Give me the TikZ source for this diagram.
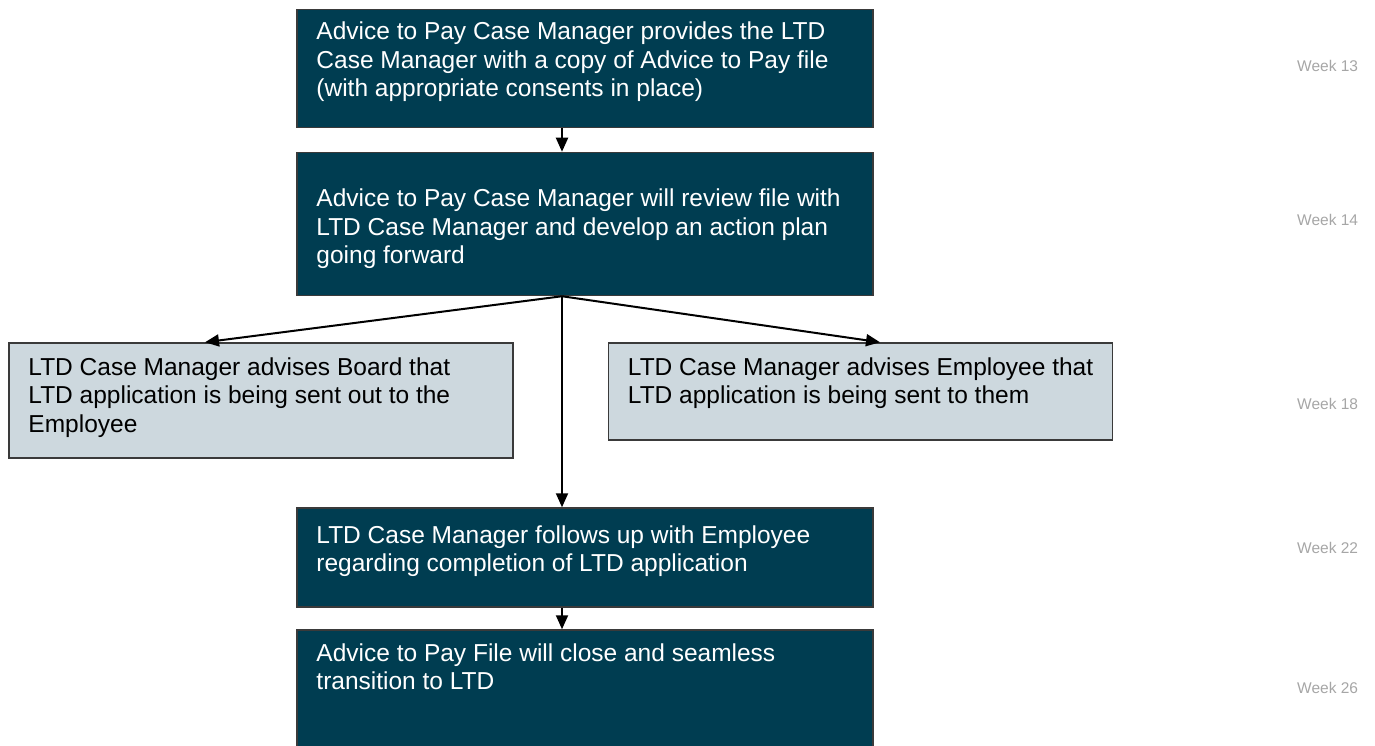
\documentclass[tikz,border=0pt]{standalone}
\usepackage{fontspec}
\setmainfont{Liberation Sans}
\usetikzlibrary{arrows.meta}
\definecolor{stepdark}{RGB}{0,61,81}
\definecolor{steplight}{RGB}{205,216,222}
\definecolor{weekgray}{RGB}{166,166,166}
\definecolor{boxline}{RGB}{58,58,58}
\tikzset{
  darkbox/.style={draw=boxline, line width=1.5pt, fill=stepdark, minimum width=576pt},
  lightbox/.style={draw=boxline, line width=1.5pt, fill=steplight, minimum width=504pt},
  boxtext/.style={anchor=north west, align=left, inner sep=0pt, font=\fontsize{24.5}{28.5}\selectfont},
  weeklabel/.style={anchor=west, inner sep=0pt, text=weekgray, font=\fontsize{15.5}{18}\selectfont},
  arrow/.style={line width=2pt, -{Triangle[width=12pt,length=14pt]}}
}
\begin{document}
\begin{tikzpicture}[x=1pt,y=-1pt]
    \useasboundingbox (0,0) rectangle (1375,746);

    % steps
    \node[darkbox, minimum height=118pt] (advice) at (585,68.5) {};
    \node[darkbox, minimum height=143pt] (review) at (585,224) {};
    \node[lightbox, minimum height=115pt] (board) at (261,400.5) {};
    \node[lightbox, minimum height=97pt] (employee) at (860.5,391.5) {};
    \node[darkbox, minimum height=99pt] (followup) at (585,557.5) {};
    \node[darkbox, minimum height=117pt] (close) at (585,688.5) {};

    \node[boxtext, text=white] at ([xshift=20pt, yshift=-13pt]advice.north west)
      {Advice to Pay Case Manager provides the LTD\\Case Manager with a copy of Advice to Pay file\\(with appropriate consents in place)};
    \node[boxtext, text=white] at ([xshift=20pt, yshift=-37pt]review.north west)
      {Advice to Pay Case Manager will review file with\\LTD Case Manager and develop an action plan\\going forward};
    \node[boxtext] at ([xshift=20pt, yshift=-15pt]board.north west)
      {LTD Case Manager advises Board that\\LTD application is being sent out to the\\Employee};
    \node[boxtext] at ([xshift=20pt, yshift=-15pt]employee.north west)
      {LTD Case Manager advises Employee that\\LTD application is being sent to them};
    \node[boxtext, text=white] at ([xshift=20pt, yshift=-18pt]followup.north west)
      {LTD Case Manager follows up with Employee\\regarding completion of LTD application};
    \node[boxtext, text=white] at ([xshift=20pt, yshift=-14pt]close.north west)
      {Advice to Pay File will close and seamless\\transition to LTD};

    % weeks
    \node[weeklabel] (w13) at (1297,66) {Week 13};
    \node[weeklabel] (w14) at (1297,220) {Week 14};
    \node[weeklabel] (w18) at (1297,404) {Week 18};
    \node[weeklabel] (w22) at (1297,548) {Week 22};
    \node[weeklabel] (w26) at (1297,688) {Week 26};

    % connectors
    \coordinate (split) at ([xshift=-23pt]review.south);
    \draw[arrow] ([xshift=-23pt]advice.south) -- ([xshift=-23pt]review.north);
    \draw[arrow] (split) -- ([xshift=-56pt]board.north);
    \draw[arrow] (split) -- ([xshift=19.5pt]employee.north);
    \draw[arrow] (split) -- ([xshift=-23pt]followup.north);
    \draw[arrow] ([xshift=-23pt]followup.south) -- ([xshift=-23pt]close.north);
\end{tikzpicture}
\end{document}
